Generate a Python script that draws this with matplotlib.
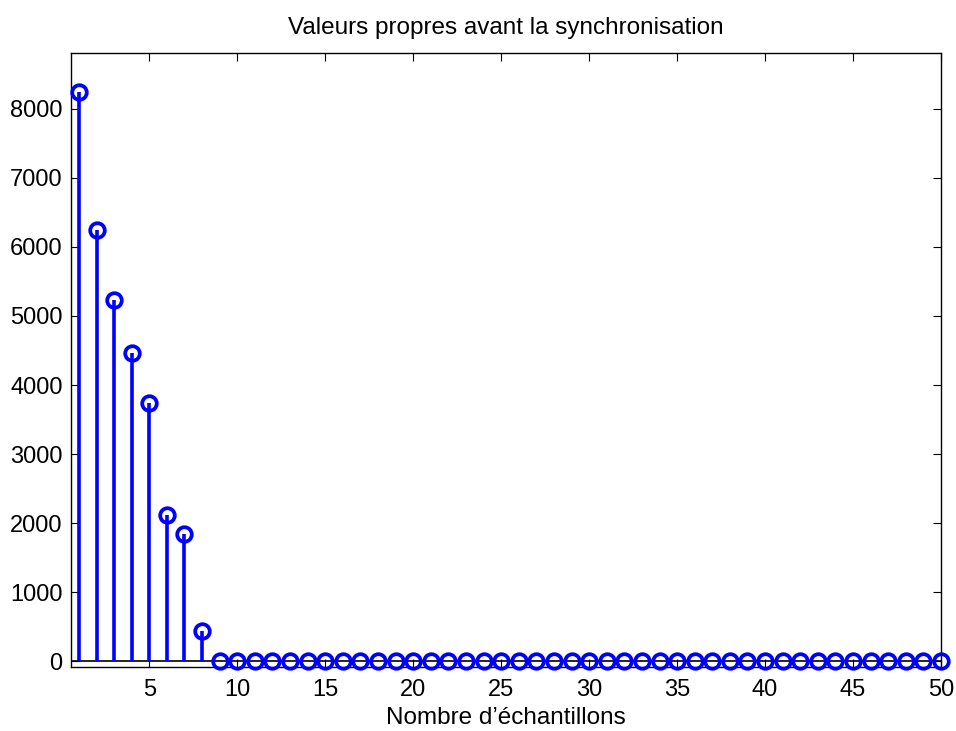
import numpy as np
import matplotlib
matplotlib.use('Agg')
import matplotlib.pyplot as plt

# eigenvalues before synchronisation (50 samples, only the first 8 are non-zero)
samples = np.arange(1, 51)
big_values = [8250, 6250, 5230, 4460, 3735, 2115, 1850, 435]
values = big_values + [0] * (len(samples) - len(big_values))

title = 'Valeurs propres avant la synchronisation'
xlabel = 'Nombre d\u2019échantillons'
xticks = [5, 10, 15, 20, 25, 30, 35, 40, 45, 50]
yticks = [0, 1000, 2000, 3000, 4000, 5000, 6000, 7000, 8000]

plt.rcParams['font.family'] = ['Liberation Sans', 'DejaVu Sans']

fig = plt.figure(figsize=(9.56, 7.31), dpi=100)
ax = fig.add_axes([71 / 956, 1 - 667 / 731, (941 - 71) / 956, (667 - 52.5) / 731])

blue = (0, 0, 1)
ax.axhline(0, color='black', lw=1.2, zorder=1)
ax.vlines(samples, 0, values, color=blue, lw=2.6, zorder=2)
ax.plot(samples, values, 'o', mfc='none', mec=blue, mew=2.7, ms=10.5, zorder=3,
        clip_on=False)

ax.set_xlim(0.55, 50)
ax.set_ylim(-83, 8815)
ax.set_xticks(xticks)
ax.set_yticks(yticks)
ax.tick_params(direction='in', top=True, right=True, length=6, width=0.8,
               labelsize=17, pad=6)
ax.tick_params(axis='x', pad=9)
for s in ax.spines.values():
    s.set_linewidth(1.0)

ax.set_title(title, fontsize=17.5, pad=13)
ax.set_xlabel(xlabel, fontsize=17.5, labelpad=4)

fig.savefig('out.png', dpi=100)
